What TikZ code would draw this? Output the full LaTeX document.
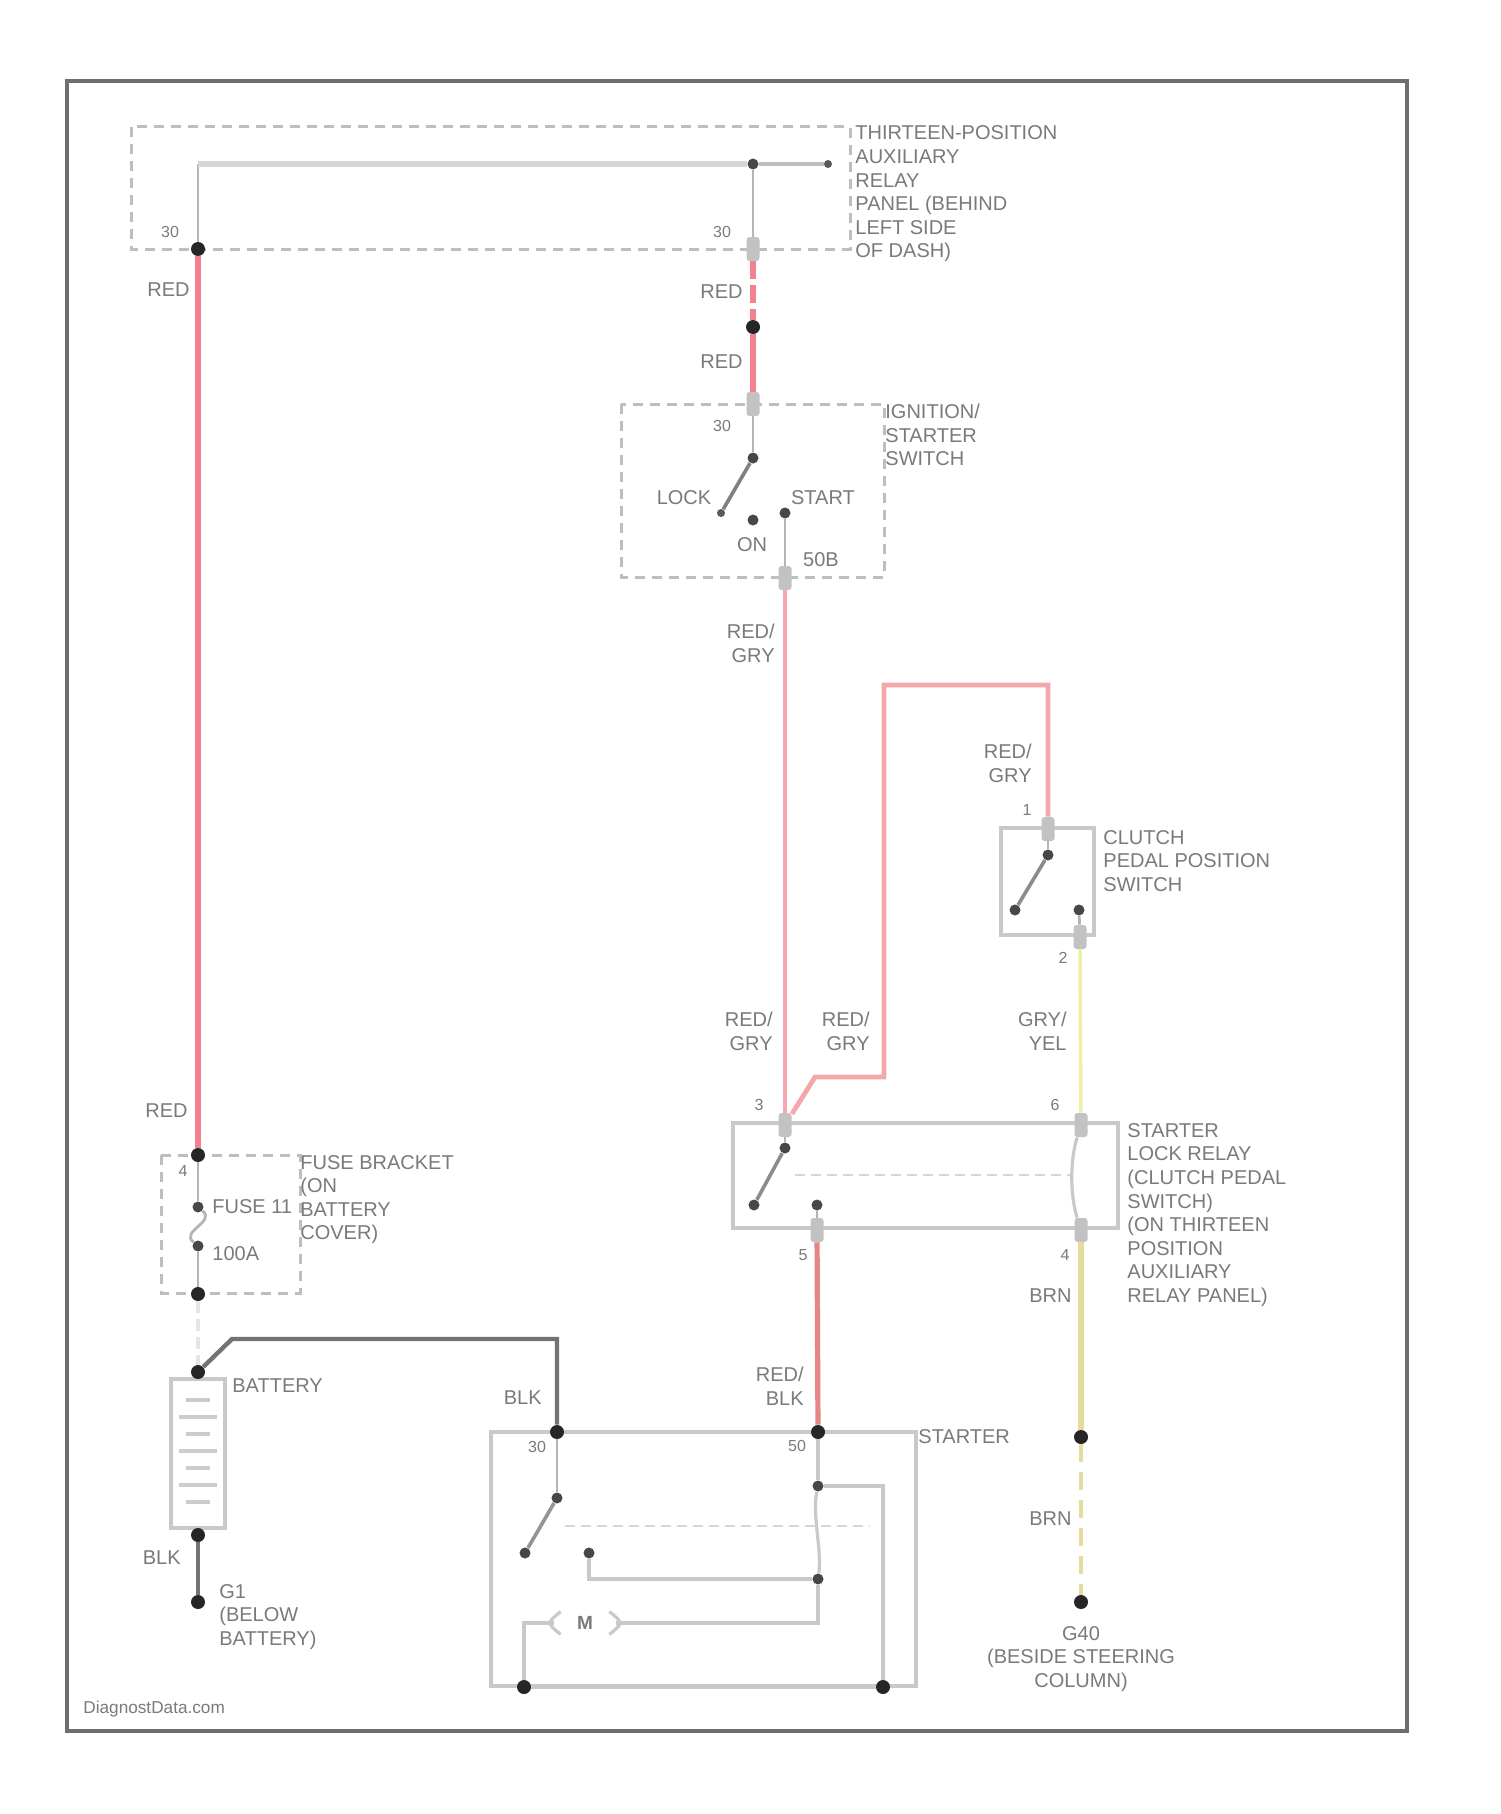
\documentclass[tikz,border=0pt]{standalone}
\usepackage{fontspec}
\setmainfont{Liberation Sans}
\definecolor{txt}{HTML}{7A7A7A}
\definecolor{framec}{HTML}{6E6E6E}
\definecolor{boxc}{HTML}{C9C9C9}
\definecolor{dashc}{HTML}{BEBEBE}
\definecolor{wirec}{HTML}{B4B4B4}
\definecolor{redm}{HTML}{F2828F}
\definecolor{redl}{HTML}{F4A8AC}
\definecolor{redk}{HTML}{E58585}
\definecolor{yell}{HTML}{EEF0A8}
\definecolor{yeld}{HTML}{E4DC9C}
\tikzset{
  x=0.5pt,y=-0.5pt,
  lbl/.style={inner sep=0pt,text=txt,font=\fontsize{10}{11.8}\selectfont,align=left,anchor=west},
  rlbl/.style={inner sep=0pt,text=txt,font=\fontsize{10}{11.8}\selectfont,align=right,anchor=east},
  clbl/.style={inner sep=0pt,text=txt,font=\fontsize{10}{11.8}\selectfont,align=center,anchor=center},
  pin/.style={inner sep=0pt,text=txt,font=\fontsize{8}{9}\selectfont,anchor=center},
  bigdot/.style={circle,fill=black!85,inner sep=0pt,minimum size=7pt},
  meddot/.style={circle,fill=black!72,inner sep=0pt,minimum size=5.5pt},
  smalldot/.style={circle,fill=black!65,inner sep=0pt,minimum size=4pt},
  conn/.style={rounded corners=1.5pt,fill=black!24,inner sep=0pt,minimum width=6.5pt,minimum height=12pt},
  frameline/.style={draw=framec,line width=2.4pt},
  solidbox/.style={draw=boxc,line width=2pt},
  dashbox/.style={draw=dashc,line width=1.5pt,dash pattern=on 5pt off 3.5pt},
  faint/.style={draw=black!16,line width=1pt,dash pattern=on 5pt off 3pt},
  wire/.style={draw=wirec,line width=1.4pt},
  wirel/.style={draw=boxc,line width=1.6pt},
  wired/.style={draw=black!55,line width=2.2pt},
  redmain/.style={draw=redm,line width=2.6pt},
  redlight/.style={draw=redl,line width=2.4pt},
  reddark/.style={draw=redk,line width=2.6pt},
  yellight/.style={draw=yell,line width=1.8pt},
  yeldark/.style={draw=yeld,line width=3pt},
}
\begin{document}
\begin{tikzpicture}
\useasboundingbox (0,0) rectangle (1500,1814);
\path[fill=white] (0,0) rectangle (1500,1814);
% frame and boxes
\draw[frameline] (67,81) rectangle (1407,1731);
\draw[dashbox] (131,127) rectangle (850,249);
\draw[dashbox] (621,404) rectangle (884,577);
\draw[dashbox] (161,1155) rectangle (300,1293);
\draw[solidbox] (171,1379) rectangle (225,1528);
\draw[solidbox] (491,1432) rectangle (916,1686);
\draw[solidbox] (733,1123) rectangle (1118,1228);
\draw[solidbox,line width=1.8pt] (1001,828) rectangle (1094,935);
% faint mechanical links
\draw[faint] (565,1526) -- (870,1526);
\draw[faint] (795,1175) -- (1072,1175);
% battery cells
\foreach \yy/\hw in {1400/12,1417/19,1434/12,1451/19,1468/12,1485/19,1502/12}
  \draw[draw=black!20,line width=1.6pt] (198-\hw,\yy) -- (198+\hw,\yy);
% connectors blobs
\node[conn] (c1) at (753,249) {};
\node[conn] (c2) at (753,404) {};
\node[conn] (c3) at (785,578) {};
\node[conn] (c4) at (1048,829) {};
\node[conn] (c5) at (1080,937) {};
\node[conn] (c6) at (785,1125) {};
\node[conn] (c7) at (1081,1125) {};
\node[conn] (c8) at (817,1230) {};
\node[conn] (c9) at (1081,1230) {};
% dots
\node[bigdot] (d1) at (198,249) {};
\node[meddot] (d2) at (753,164) {};
\node[smalldot] (d3) at (828,164) {};
\node[bigdot] (d4) at (753,327) {};
\node[meddot] (s1) at (753,458) {};
\node[smalldot] (s2) at (721,513) {};
\node[meddot] (s3) at (753,520) {};
\node[meddot] (s4) at (785,513) {};
\node[bigdot] (f0) at (198,1155) {};
\node[meddot] (f1) at (198,1207) {};
\node[meddot] (f2) at (198,1246) {};
\node[bigdot] (f3) at (198,1294) {};
\node[bigdot] (b1) at (198,1372) {};
\node[bigdot] (b2) at (198,1535) {};
\node[bigdot] (b3) at (198,1602) {};
\node[bigdot] (m30) at (557,1432) {};
\node[bigdot] (m50) at (818,1432) {};
\node[meddot] (m1) at (557,1498) {};
\node[meddot] (m2) at (525,1553) {};
\node[meddot] (m3) at (589,1553) {};
\node[meddot] (m4) at (818,1486) {};
\node[meddot] (m5) at (818,1579) {};
\node[bigdot] (g1) at (524,1687) {};
\node[bigdot] (g2) at (883,1687) {};
\node[meddot] (r1) at (785,1148) {};
\node[meddot] (r2) at (754,1205) {};
\node[meddot] (r3) at (817,1205) {};
\node[meddot] (k1) at (1048,855) {};
\node[meddot] (k2) at (1015,910) {};
\node[meddot] (k3) at (1079,910) {};
\node[bigdot] (y1) at (1081,1437) {};
\node[bigdot] (y2) at (1081,1602) {};
% motor
\node[inner sep=0pt,minimum width=24pt,minimum height=11pt,text=txt,font=\fontsize{9.5}{10}\bfseries] (mot) at (585,1623) {M};
\draw[wirel] (mot.north west) .. controls ([xshift=-7pt]mot.west) .. (mot.south west);
\draw[wirel] (mot.north east) .. controls ([xshift=7pt]mot.east) .. (mot.south east);
% bend coordinates
\coordinate (w1) at (198,164);
\coordinate (w2) at (232,1339);
\coordinate (w3) at (557,1339);
\coordinate (w4) at (589,1579);
\coordinate (w5) at (818,1623);
\coordinate (w6) at (524,1623);
\coordinate (w7) at (883,1486);
\coordinate (w8) at (815,1077);
\coordinate (w9) at (884,1077);
\coordinate (w10) at (884,685);
\coordinate (w11) at (1048,685);
% grey wires
\draw[wire] (d1) -- (w1);
\draw[draw=black!16,line width=3.2pt] (w1) -- (d2);
\draw[draw=black!25,line width=1.8pt] (d2) -- (d3);
\draw[wire] (d2) -- (c1);
\draw[wire] (c2) -- (s1);
\draw[wire,line width=1.8pt,draw=black!50] (s1) -- (s2);
\draw[wire] (s4) -- (c3);
\draw[wire] (f0) -- (f1);
\draw[wire] (f1) .. controls (216,1222) and (180,1231) .. (f2);
\draw[wire] (f2) -- (f3);
\draw[draw=black!10,line width=2pt,dash pattern=on 6pt off 3pt] (f3) -- (b1);
\draw[wired] (b1) -- (w2) -- (w3) -- (m30);
\draw[wired] (b2) -- (b3);
\draw[wire] (m30) -- (m1);
\draw[wire,line width=1.8pt,draw=black!42] (m1) -- (m2);
\draw[wirel] (m3) -- (w4) -- (m5);
\draw[wirel] (m50) -- (m4);
\draw[wirel] (m4) .. controls (812,1515) and (822,1550) .. (m5);
\draw[wirel] (m5) -- (w5) -- ([xshift=3.5pt]mot.east);
\draw[wirel] ([xshift=-3.5pt]mot.west) -- (w6) -- (g1);
\draw[wirel] (m4) -- (w7) -- (g2);
\draw[wirel] (g1) -- (g2);
\draw[wire,draw=black!45,line width=1.8pt] (r1) -- (r2);
\draw[wire,draw=black!45,line width=1.8pt] (k1) -- (k2);
\draw[wire] (c6) -- (r1);
\draw[wire] (c8) -- (r3);
\draw[wire] (c4) -- (k1);
\draw[wire] (k3) -- (c5);
\draw[wirel] (c7) .. controls (1070,1160) and (1070,1195) .. (c9);
% coloured wires
\draw[redmain] (d1) -- (f0);
\draw[redmain,dash pattern=on 9pt off 3pt] (c1) -- (d4);
\draw[redmain] (d4) -- (c2);
\draw[redlight] (c3) -- (c6);
\draw[redlight] (c6) -- (w8) -- (w9) -- (w10) -- (w11) -- (c4);
\draw[reddark] (c8) -- (m50);
\draw[yellight] (c5) -- (c7);
\draw[yeldark] (c9) -- (y1);
\draw[yeldark,line width=2.4pt,dash pattern=on 9pt off 5pt] (y1) -- (y2);
% texts
\node[lbl] (t1) at (855,194) {THIRTEEN-POSITION\\AUXILIARY\\RELAY\\PANEL (BEHIND\\LEFT SIDE\\OF DASH)};
\node[lbl] (t2) at (885,435) {IGNITION/\\STARTER\\SWITCH};
\node[lbl] (t3) at (1103,861) {CLUTCH\\PEDAL POSITION\\SWITCH};
\node[lbl] (t4) at (1127,1215) {STARTER\\LOCK RELAY\\(CLUTCH PEDAL\\SWITCH)\\(ON THIRTEEN\\POSITION\\AUXILIARY\\RELAY PANEL)};
\node[lbl] (t5) at (300,1199.5) {FUSE BRACKET\\(ON\\BATTERY\\COVER)};
\node[lbl] (t6) at (232,1386) {BATTERY};
\node[lbl] (t7) at (219,1617) {G1\\(BELOW\\BATTERY)};
\node[lbl] (t8) at (918,1437) {STARTER};
\node[clbl] (t9) at (1081,1659) {G40\\(BESIDE STEERING\\COLUMN)};
\node[lbl] (t10) at (212,1207) {FUSE 11};
\node[lbl] (t11) at (212,1254) {100A};
\node[clbl] (t12) at (684,498) {LOCK};
\node[clbl] (t13) at (823,498) {START};
\node[clbl] (t14) at (752,545) {ON};
\node[clbl] (t15) at (821,560) {50B};
\node[rlbl] (r01) at (190,290) {RED};
\node[rlbl] (r02) at (743,292) {RED};
\node[rlbl] (r03) at (743,362) {RED};
\node[rlbl] (r04) at (775,643.5) {RED/\\GRY};
\node[rlbl] (r05) at (1032,763.5) {RED/\\GRY};
\node[rlbl] (r06) at (773,1031.5) {RED/\\GRY};
\node[rlbl] (r07) at (870,1031.5) {RED/\\GRY};
\node[rlbl] (r08) at (1067,1031.5) {GRY/\\YEL};
\node[rlbl] (r09) at (188,1111) {RED};
\node[rlbl] (r10) at (804,1386) {RED/\\BLK};
\node[rlbl] (r11) at (1072,1296) {BRN};
\node[rlbl] (r12) at (1072,1519) {BRN};
\node[rlbl] (r13) at (542,1398) {BLK};
\node[rlbl] (r14) at (181,1558) {BLK};
\node[pin] (p1) at (170,232) {30};
\node[pin] (p2) at (722,232) {30};
\node[pin] (p3) at (722,426) {30};
\node[pin] (p4) at (183,1171) {4};
\node[pin] (p5) at (537,1447) {30};
\node[pin] (p6) at (797,1446) {50};
\node[pin] (p7) at (1027,810) {1};
\node[pin] (p8) at (1063,958) {2};
\node[pin] (p9) at (759,1105) {3};
\node[pin] (p10) at (1055,1105) {6};
\node[pin] (p11) at (803,1255) {5};
\node[pin] (p12) at (1065,1255) {4};
\node[inner sep=0pt,anchor=west,text=txt,font=\fontsize{8.6}{9}\selectfont] (wm) at (83,1709) {DiagnostData.com};
\end{tikzpicture}
\end{document}
